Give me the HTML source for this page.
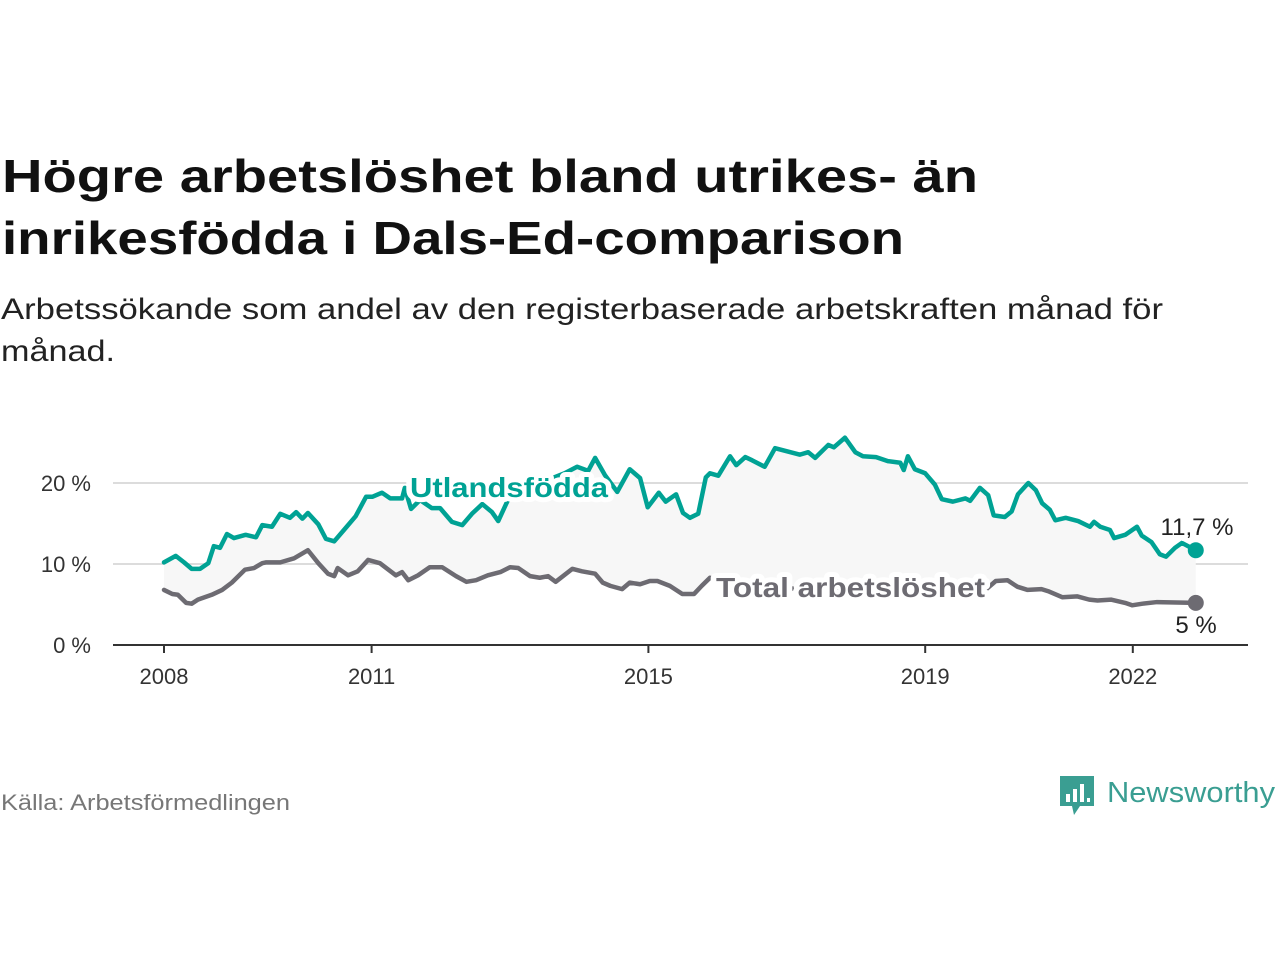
<!DOCTYPE html>
<html><head><meta charset="utf-8"><style>
html,body{margin:0;padding:0;background:#fff;}
svg{display:block;font-family:"Liberation Sans",sans-serif;}
</style></head><body>
<svg width="1280" height="960" viewBox="0 0 1280 960">
<text x="2" y="192" font-size="46" font-weight="bold" fill="#111" textLength="976" lengthAdjust="spacingAndGlyphs">Högre arbetslöshet bland utrikes- än</text>
<text x="2" y="254" font-size="46" font-weight="bold" fill="#111" textLength="902" lengthAdjust="spacingAndGlyphs">inrikesfödda i Dals-Ed-comparison</text>
<text x="1" y="319" font-size="30" fill="#222" textLength="1162" lengthAdjust="spacingAndGlyphs">Arbetssökande som andel av den registerbaserade arbetskraften månad för</text>
<text x="1" y="361" font-size="30" fill="#222" textLength="114" lengthAdjust="spacingAndGlyphs">månad.</text>
<g id="plot"></g>
<text x="1" y="810" font-size="22" fill="#777" textLength="289" lengthAdjust="spacingAndGlyphs">Källa: Arbetsförmedlingen</text>
<g>
<path d="M1060 776 h34 v30 h-14 l-6 9 l-2-9 h-12 z" fill="#3a9e92"/>
<rect x="1066" y="794" width="4" height="8" fill="#fff"/><rect x="1073" y="789" width="4" height="13" fill="#fff"/><rect x="1080" y="784" width="4" height="18" fill="#fff"/><rect x="1087" y="798" width="3" height="4" fill="#fff"/>
<text x="1107" y="802" font-size="29" fill="#3a9e92" textLength="168" lengthAdjust="spacingAndGlyphs">Newsworthy</text>
</g>
</svg>
<script>
const utlYears=[2008.00,2008.17,2008.29,2008.40,2008.52,2008.64,2008.72,2008.81,2008.91,2009.01,2009.18,2009.33,2009.42,2009.56,2009.68,2009.82,2009.91,2010.00,2010.08,2010.23,2010.34,2010.46,2010.60,2010.77,2010.92,2011.01,2011.15,2011.27,2011.44,2011.48,2011.57,2011.70,2011.87,2011.99,2012.16,2012.31,2012.45,2012.60,2012.74,2012.83,2012.97,2013.14,2013.36,2013.58,2013.79,2013.97,2014.13,2014.23,2014.37,2014.55,2014.73,2014.88,2014.99,2015.15,2015.25,2015.40,2015.50,2015.60,2015.72,2015.83,2015.89,2016.01,2016.18,2016.27,2016.40,2016.50,2016.68,2016.83,2017.19,2017.31,2017.41,2017.60,2017.68,2017.84,2017.99,2018.10,2018.29,2018.46,2018.64,2018.69,2018.75,2018.85,2019.00,2019.14,2019.24,2019.40,2019.58,2019.65,2019.79,2019.91,2019.99,2020.15,2020.25,2020.34,2020.49,2020.60,2020.69,2020.80,2020.88,2021.03,2021.21,2021.38,2021.44,2021.53,2021.67,2021.73,2021.89,2022.06,2022.13,2022.27,2022.39,2022.48,2022.61,2022.71,2022.91];
const utlValues=[10.2,11.0,10.2,9.4,9.4,10.1,12.2,12.0,13.7,13.2,13.6,13.3,14.8,14.6,16.2,15.7,16.4,15.6,16.3,14.9,13.1,12.8,14.2,15.9,18.3,18.3,18.8,18.1,18.1,19.4,16.8,17.9,16.9,16.9,15.2,14.8,16.2,17.4,16.4,15.3,17.9,19.0,19.8,20.5,21.2,22.0,21.5,23.1,21.0,18.9,21.7,20.6,17.0,18.8,17.7,18.6,16.3,15.7,16.2,20.7,21.2,20.9,23.3,22.2,23.2,22.8,22.0,24.3,23.5,23.8,23.1,24.7,24.4,25.6,23.8,23.3,23.2,22.7,22.5,21.6,23.3,21.7,21.2,19.8,18.0,17.7,18.1,17.8,19.4,18.5,16.0,15.8,16.5,18.6,20.0,19.1,17.5,16.7,15.4,15.7,15.3,14.6,15.2,14.6,14.2,13.2,13.6,14.6,13.5,12.7,11.2,10.9,12.0,12.6,11.7];
const totYears=[2008.00,2008.12,2008.20,2008.32,2008.40,2008.49,2008.69,2008.84,2008.98,2009.17,2009.30,2009.42,2009.47,2009.68,2009.88,2010.08,2010.23,2010.37,2010.46,2010.51,2010.66,2010.80,2010.95,2011.12,2011.35,2011.44,2011.53,2011.67,2011.84,2012.02,2012.22,2012.37,2012.51,2012.68,2012.86,2013.00,2013.12,2013.29,2013.43,2013.55,2013.66,2013.90,2014.04,2014.23,2014.34,2014.45,2014.62,2014.73,2014.88,2015.02,2015.13,2015.31,2015.49,2015.66,2015.77,2015.89,2016.2,2016.6,2017.0,2017.5,2018.0,2018.5,2019.0,2019.3,2019.64,2019.83,2020.02,2020.19,2020.33,2020.48,2020.68,2020.79,2020.98,2021.20,2021.37,2021.49,2021.69,2021.89,2021.99,2022.14,2022.35,2022.91];
const totValues=[6.8,6.3,6.2,5.2,5.1,5.6,6.2,6.8,7.7,9.3,9.5,10.1,10.2,10.2,10.7,11.7,10.1,8.8,8.5,9.5,8.6,9.1,10.5,10.1,8.6,9.0,8.0,8.6,9.6,9.6,8.5,7.8,8.0,8.6,9.0,9.6,9.5,8.5,8.3,8.5,7.8,9.4,9.1,8.8,7.7,7.3,6.9,7.7,7.5,7.9,7.9,7.3,6.3,6.3,7.3,8.3,7.5,7.2,7.0,6.8,6.6,6.5,6.3,6.2,6.3,6.5,7.9,8.0,7.2,6.8,6.9,6.6,5.9,6.0,5.6,5.5,5.6,5.2,4.9,5.1,5.3,5.2];
const yTicks=[0,10,20];
const yTickLabels=["0 %","10 %","20 %"];
const xTicks=[2008,2011,2015,2019,2022];
const xTickLabels=["2008","2011","2015","2019","2022"];

const NS="http://www.w3.org/2000/svg";
const g=document.getElementById('plot');
const X=y=>164+(y-2008)*69.2;
const Y=v=>645-v*8.1;
function mk(t,a){const e=document.createElementNS(NS,t);for(const k in a)e.setAttribute(k,a[k]);g.appendChild(e);return e;}

yTicks.forEach((t,i)=>{
  if(t>0){const l=mk('line',{x1:113,x2:1248,y1:Y(t),y2:Y(t),stroke:'#dcdcdc','stroke-width':2});
  
  }
  const tx=mk('text',{x:91,y:Y(t)+8,'font-size':22,fill:'#333','text-anchor':'end'});
  tx.textContent=yTickLabels[i];
  
  
});
// band
let d='M'+utlYears.map((y,i)=>X(y)+','+Y(utlValues[i])).join('L');
for(let i=totYears.length-1;i>=0;i--)d+='L'+X(totYears[i])+','+Y(totValues[i]);
const band=mk('path',{d:d+'Z',fill:'#f7f7f7'});



const ax=mk('line',{x1:113,x2:1248,y1:645,y2:645,stroke:'#333','stroke-width':2});


xTicks.forEach((t,i)=>{
  const tk=mk('line',{x1:X(t),x2:X(t),y1:645,y2:653,stroke:'#333','stroke-width':2});
  
  
  const tx=mk('text',{x:X(t),y:684,'font-size':22,fill:'#333','text-anchor':'middle'});
  tx.textContent=xTickLabels[i];
  
  
});
function line(ys,vs,c,name){
  const p=mk('path',{d:'M'+ys.map((y,i)=>X(y)+','+Y(vs[i])).join('L'),fill:'none',stroke:c,'stroke-width':4.5,'stroke-linejoin':'round','stroke-linecap':'round'});
  
  
  const n=ys.length-1;
  const c2=mk('circle',{cx:X(ys[n]),cy:Y(vs[n]),r:8,fill:c});
  
  
}
line(totYears,totValues,'#6d6b72','total-line');
line(utlYears,utlValues,'#00a294','utlandsfodda-line');

function lbl(txt,x,y,c,name,len){
  const t=mk('text',{x:x,y:y,'font-size':28,'font-weight':'bold',fill:c,stroke:'#fff','stroke-width':10,'stroke-linejoin':'round','paint-order':'stroke',textLength:len,lengthAdjust:'spacingAndGlyphs'});
  t.textContent=txt;
  
  
}
lbl('Utlandsfödda',410,497,'#00a294','utlandsfodda-label',198);
lbl('Total arbetslöshet',716,597,'#6d6b72','total-label',269);
function val(txt,x,y,name){
  const t=mk('text',{x:x,y:y,'font-size':24,fill:'#222','text-anchor':'middle',stroke:'#fff','stroke-width':6,'paint-order':'stroke'});
  t.textContent=txt;
  
  
}
val(utlValues[utlValues.length-1].toFixed(1).replace('.',',')+' %',1197,535,'utlandsfodda-end-value');
val(Math.round(totValues[totValues.length-1])+' %',1196,633,'total-end-value');
</script>
</body></html>
